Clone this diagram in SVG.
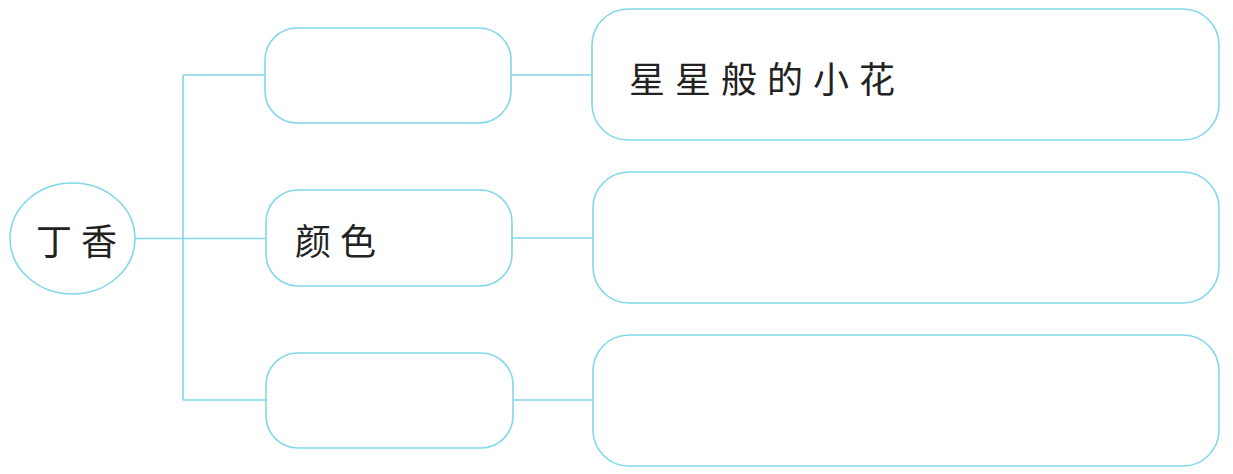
<svg xmlns="http://www.w3.org/2000/svg" width="1233" height="474" viewBox="0 0 1233 474">
<style>
.s{fill:#fff;stroke:#80d8ea;stroke-width:1.6}
.c{fill:none;stroke:#80d8ea;stroke-width:1.6}
.t{font-family:"Noto Sans CJK SC","Noto Sans CJK JP",sans-serif;font-size:36px;fill:#222;dominant-baseline:central}
</style>
<rect width="1233" height="474" fill="#fff"/>
<g id="connectors">
<path class="c" d="M135 238.5H266M183 75V400M183 75H265M183 400H266M511 75H592M512 238H593M513 400H593"/>
</g>
<g id="n-dingxiang">
<ellipse class="s" cx="72.5" cy="238.5" rx="62.5" ry="55.5"/>
<text class="t" x="36" y="239" letter-spacing="9">丁香</text>
</g>
<g id="n-mid1"><rect class="s" x="265" y="28" width="246" height="95" rx="32"/></g>
<g id="n-mid2"><rect class="s" x="266" y="190" width="246" height="96" rx="32"/>
<text class="t" x="295" y="239" letter-spacing="9">颜色</text></g>
<g id="n-mid3"><rect class="s" x="266" y="353" width="247" height="95" rx="32"/></g>
<g id="n-right1"><rect class="s" x="592" y="9" width="627" height="131" rx="36"/>
<text class="t" x="629" y="77" letter-spacing="10">星星般的小花</text></g>
<g id="n-right2"><rect class="s" x="593" y="172" width="626" height="131" rx="36"/></g>
<g id="n-right3"><rect class="s" x="593" y="335" width="626" height="131" rx="36"/></g>
</svg>
